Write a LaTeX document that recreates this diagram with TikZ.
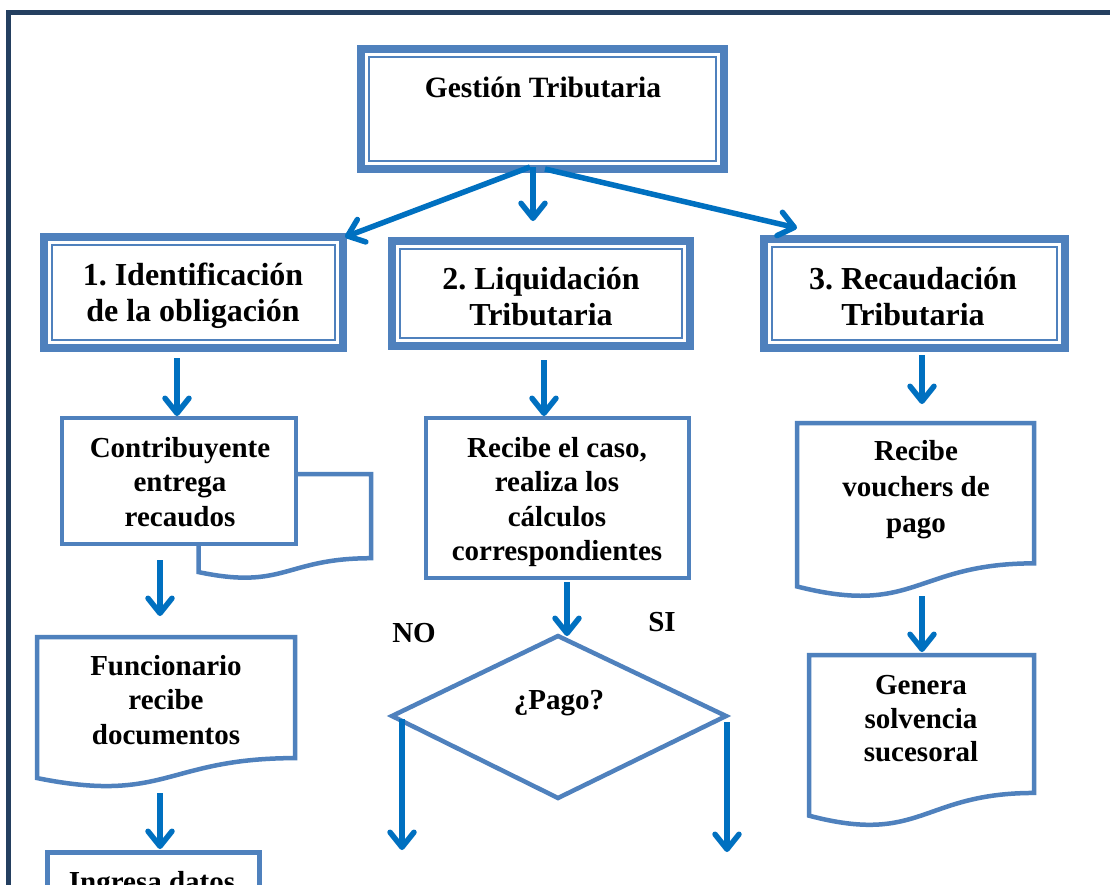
\documentclass[tikz,border=0pt]{standalone}
\usepackage{fontspec}
\setmainfont{Liberation Serif}
\usetikzlibrary{arrows.meta,calc}
\definecolor{fc}{HTML}{4F81BD}
\definecolor{ac}{HTML}{0070C0}
\definecolor{navy}{HTML}{243F60}
\tikzset{
  outerf/.style={draw=fc,line width=8pt,rectangle,inner sep=0pt,outer sep=0pt,fill=white},
  innerf/.style={draw=fc,line width=1.8pt},
  docf/.style={draw=fc,line width=4.5pt,fill=white,line join=miter},
  arr/.style={draw=ac,line width=5.5pt,-{Straight Barb[length=15pt,width=24pt,round]}},
  txt/.style={font=\bfseries\fontsize{29}{34.5}\selectfont,align=center,inner sep=0pt},
  ttl/.style={font=\bfseries\fontsize{32}{36}\selectfont,align=center,inner sep=0pt},
}
% name, x1, y1, x2, y2 (outer edges)
\newcommand\dframe[5]{%
  \node[outerf,minimum width={#4-#2-8pt},minimum height={#5-#3-8pt}] (#1) at ({(#2+#4)/2},{(#3+#5)/2}) {};
  \draw[innerf] ($(#1.north west)+(8,8)$) rectangle ($(#1.south east)+(-8,-8)$);
}
% x1, y1, x2, h
\newcommand\docshape[4]{%
  \draw[docf] (#1,#2) -- (#3,#2) -- (#3,{#2+0.802*#4})
    .. controls ({(#1+#3)/2},{#2+0.802*#4}) and ({(#1+#3)/2},{#2+1.107*#4}) .. (#1,{#2+0.934*#4}) -- cycle;
}
\frenchspacing
\begin{document}
\begin{tikzpicture}[x=1pt,y=-1pt]
\useasboundingbox (0,0) rectangle (1110,884);
\clip (0,0) rectangle (1110,884);
\fill[white] (0,0) rectangle (1110,884);
% outer border
\draw[navy,line width=5pt] (8.5,920) -- (8.5,12.5) -- (1140,12.5);

% top box
\dframe{g}{357}{45}{728}{173}
\node[txt,font=\bfseries\fontsize{29.5}{34.5}\selectfont] (gt) at (543,87) {Gestión Tributaria};

% three main boxes
\dframe{b1}{40}{233}{347}{352}
\node[ttl] (b1t) at (193,296) {1. Identificación\\de la obligación};
\dframe{b2}{388}{237}{694}{350}
\node[ttl] (b2t) at (541,297) {2. Liquidación\\Tributaria};
\dframe{b3}{760}{235}{1069}{352}
\node[ttl] (b3t) at (913,297) {3. Recaudación\\Tributaria};

% column 1
\docshape{198.5}{474}{371}{105}
\draw[docf] (62,418) rectangle (296,544);
\node[txt] (c1) at (180,482) {Contribuyente\\entrega\\recaudos};
\docshape{37}{637}{295}{151}
\node[txt] (f1) at (166,700) {Funcionario\\recibe\\documentos};
\draw[docf] (47.5,852.5) rectangle (259.5,920);
\node[txt,anchor=base] (i1) at (152,891) {Ingresa datos};

% column 2
\draw[docf] (426,418) rectangle (689,578);
\node[txt] (r2) at (557,502) {Recibe el caso,\\realiza los\\cálculos\\correspondientes};
\draw[docf] (558,636) -- (726,716) -- (558,798) -- (392,716) -- cycle;
\node[txt] (p2) at (559,703) {¿Pago?};
\node[txt] (no) at (414,633) {NO};
\node[txt] (si) at (662,622) {SI};

% column 3
\docshape{797}{423}{1034}{175}
\node[txt,font=\bfseries\fontsize{29}{36}\selectfont] (v3) at (916,490) {Recibe\\vouchers de\\pago};
\docshape{809}{655}{1034}{172}
\node[txt,font=\bfseries\fontsize{29}{33.5}\selectfont] (s3) at (921,719) {Genera\\solvencia\\sucesoral};

% arrow coordinates
\coordinate (gL) at (530,167);
\coordinate (gM) at (533,167);
\coordinate (gR) at (545,169);
\coordinate (t1) at (345,237);
\coordinate (t2) at (533,221);
\coordinate (t3) at (797,228);
\coordinate (b1s) at (177,358);
\coordinate (c1n) at (177,416);
\coordinate (b2s) at (544,360);
\coordinate (r2n) at (544,416);
\coordinate (b3s) at (922,355);
\coordinate (v3n) at (922,404);
\coordinate (c1s) at (160,560);
\coordinate (f1n) at (160,616);
\coordinate (f1s) at (160,793);
\coordinate (i1n) at (160,849);
\coordinate (r2s) at (567,582);
\coordinate (p2n) at (567,636);
\coordinate (pL) at (402,719);
\coordinate (pLe) at (402,850);
\coordinate (pR) at (727,722);
\coordinate (pRe) at (727,852);
\coordinate (v3s) at (922,596);
\coordinate (s3n) at (922,652);

\draw[arr] (gL) -- (t1);
\draw[arr] (gM) -- (t2);
\draw[arr] (gR) -- (t3);
\draw[arr] (b1s) -- (c1n);
\draw[arr] (b2s) -- (r2n);
\draw[arr] (b3s) -- (v3n);
\draw[arr] (c1s) -- (f1n);
\draw[arr] (f1s) -- (i1n);
\draw[arr] (r2s) -- (p2n);
\draw[arr] (pL) -- (pLe);
\draw[arr] (pR) -- (pRe);
\draw[arr] (v3s) -- (s3n);
\end{tikzpicture}
\end{document}
